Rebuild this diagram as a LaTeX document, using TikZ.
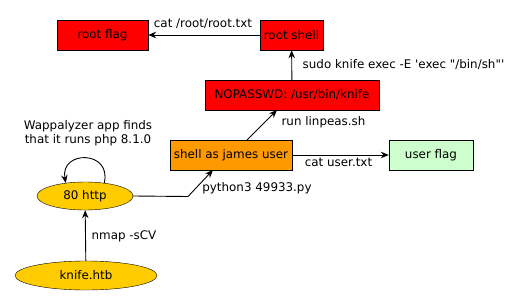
\documentclass[tikz,border=0pt]{standalone}
\usepackage{fontspec}
\setmainfont{DejaVu Sans}[Ligatures=TeXOff]
\usetikzlibrary{shapes.geometric,arrows.meta}
\definecolor{nred}{HTML}{FF0000}
\definecolor{norange}{HTML}{FF9900}
\definecolor{nyellow}{HTML}{FFCC00}
\definecolor{ngreen}{HTML}{CCFFCC}
\tikzset{
  box/.style={draw=black, rectangle, minimum height=30pt, inner sep=0pt, font=\fontsize{11.9}{13}\selectfont},
  oval/.style={draw=black, ellipse, inner sep=0pt, fill=nyellow, font=\fontsize{11.9}{13}\selectfont},
  lbl/.style={inner sep=0pt, font=\fontsize{11.9}{13}\selectfont},
  arr/.style={-{Stealth[length=8pt,width=6.5pt]}, line width=0.9pt},
}
\begin{document}
\begin{tikzpicture}[x=1pt,y=-1pt]
\useasboundingbox (0,0) rectangle (525,305);
\node[box, fill=nred, minimum width=91pt] (rootflag) at (102.5,35) {root flag};
\node[box, fill=nred, minimum width=63pt] (rootshell) at (291.5,35) {root shell};
\node[box, fill=nred, minimum width=174pt] (nopass) at (292,95) {NOPASSWD: /usr/bin/knife};
\node[box, fill=norange, minimum width=122pt] (james) at (231,155) {shell as james user};
\node[box, fill=ngreen, minimum width=84pt] (userflag) at (431,155) {user flag};
\node[oval, minimum width=96pt, minimum height=28pt] (http) at (85,196) {80 http};
\node[oval, minimum width=142pt, minimum height=29pt] (knife) at (86,275.5) {knife.htb};

\coordinate (j1) at (247,140);
\coordinate (n1) at (277,110);
\coordinate (h1) at (188,196.5);
\coordinate (j2) at (213,170);

\draw[arr] (rootshell) -- (rootflag);
\draw[arr] (nopass) -- (rootshell);
\draw[arr] (j1) -- (n1);
\draw[arr] (james) -- (userflag);
\draw[arr] (http.east) -- (h1) -- (j2);
\draw[arr] (knife) -- (http);
\draw[arr] (http.34) .. controls (112,150) and (60,150) .. (http.146);

\node[lbl] (l1) at (203,24) {cat /root/root.txt};
\node[lbl] (l2) at (403.5,65) {sudo knife exec -E 'exec "/bin/sh"'};
\node[lbl] (l3) at (323.5,122) {run linpeas.sh};
\node[lbl] (l4) at (338.5,162) {cat user.txt};
\node[lbl] (l5) at (257,188) {python3 49933.py};
\node[lbl] (l6) at (124,236) {nmap -sCV};
\node[lbl, align=center, font=\fontsize{11.9}{14}\selectfont] (l7) at (88,133) {Wappalyzer app finds\\that it runs php 8.1.0};
\end{tikzpicture}
\end{document}
